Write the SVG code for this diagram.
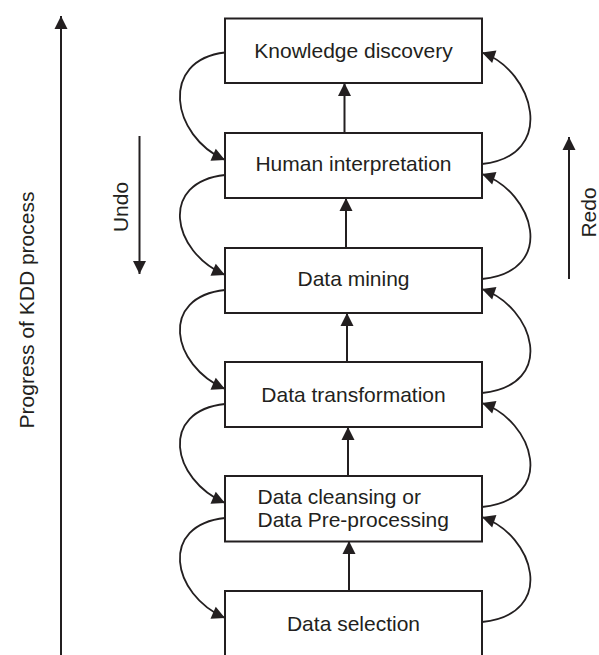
<svg xmlns="http://www.w3.org/2000/svg" width="599" height="655" viewBox="0 0 599 655">
  <style>
    .box { fill: #ffffff; stroke: #231f20; stroke-width: 2; }
    .lbl { font-family: "Liberation Sans", Arial, sans-serif; font-size: 21px; fill: #231f20; }
    .mid { text-anchor: middle; }
    .ln { fill: none; stroke: #231f20; stroke-width: 2; marker-end: url(#ah); }
    .cv { fill: none; stroke: #231f20; stroke-width: 1.8; marker-end: url(#ah); }
  </style>
  <defs>
    <marker id="ah" markerUnits="userSpaceOnUse" markerWidth="14" markerHeight="14" refX="13" refY="6.5" orient="auto" overflow="visible">
      <path d="M0,0 L13,6.5 L0,13 Z" fill="#231f20"/>
    </marker>
  </defs>

  <g id="connectors">
    <!-- side axis arrows -->
    <path class="ln" d="M61,655 L61,16"/>
    <path class="ln" d="M139.5,136 L139.5,274"/>
    <path class="ln" d="M569,279 L569,137"/>
    <!-- vertical progress arrows -->
    <path class="ln" d="M344.5,133 L344.5,83"/>
    <path class="ln" d="M346,248 L346,198"/>
    <path class="ln" d="M347,362 L347,313"/>
    <path class="ln" d="M348,476 L348,427"/>
    <path class="ln" d="M349,591 L349,541"/>
    <!-- left undo curves -->
    <path class="cv" d="M225,52.5 C159,60 171,136 225,160"/>
    <path class="cv" d="M225,175 C159,182 171,251 225,275"/>
    <path class="cv" d="M225,290 C159,297 171,365 225,389"/>
    <path class="cv" d="M225,404 C159,411 171,479 225,503"/>
    <path class="cv" d="M225,518 C159,525 171,594 225,618"/>
    <!-- right redo curves -->
    <path class="cv" d="M482,164 C558,156 534,70.5 482,52.5"/>
    <path class="cv" d="M482,279 C558,271 534,192 482,174"/>
    <path class="cv" d="M482,393 C558,385 534,307 482,289"/>
    <path class="cv" d="M482,507 C558,499 534,421 482,403"/>
    <path class="cv" d="M482,622 C558,614 534,535 482,517"/>
  </g>

  <g id="node-knowledge-discovery">
    <rect class="box" x="225" y="18.5" width="257" height="64.5"/>
    <text class="lbl mid" x="353.5" y="57.5">Knowledge discovery</text>
  </g>
  <g id="node-human-interpretation">
    <rect class="box" x="225" y="133" width="257" height="65"/>
    <text class="lbl mid" x="353.5" y="171">Human interpretation</text>
  </g>
  <g id="node-data-mining">
    <rect class="box" x="225" y="248" width="257" height="65"/>
    <text class="lbl mid" x="353.5" y="286">Data mining</text>
  </g>
  <g id="node-data-transformation">
    <rect class="box" x="225" y="362" width="257" height="65"/>
    <text class="lbl mid" x="353.5" y="401.5">Data transformation</text>
  </g>
  <g id="node-data-cleansing">
    <rect class="box" x="225" y="476" width="257" height="65.5"/>
    <text class="lbl" x="257.5" y="503.5">Data cleansing or</text>
    <text class="lbl" x="257.5" y="526.5">Data Pre-processing</text>
  </g>
  <g id="node-data-selection">
    <rect class="box" x="225" y="591" width="257" height="70"/>
    <text class="lbl mid" x="353.5" y="631">Data selection</text>
  </g>

  <g id="axis-labels">
    <text class="lbl mid" transform="translate(34,310) rotate(-90)">Progress of KDD process</text>
    <text class="lbl mid" transform="translate(127.5,207) rotate(-90)">Undo</text>
    <text class="lbl mid" transform="translate(596,212.5) rotate(-90)">Redo</text>
  </g>
</svg>
